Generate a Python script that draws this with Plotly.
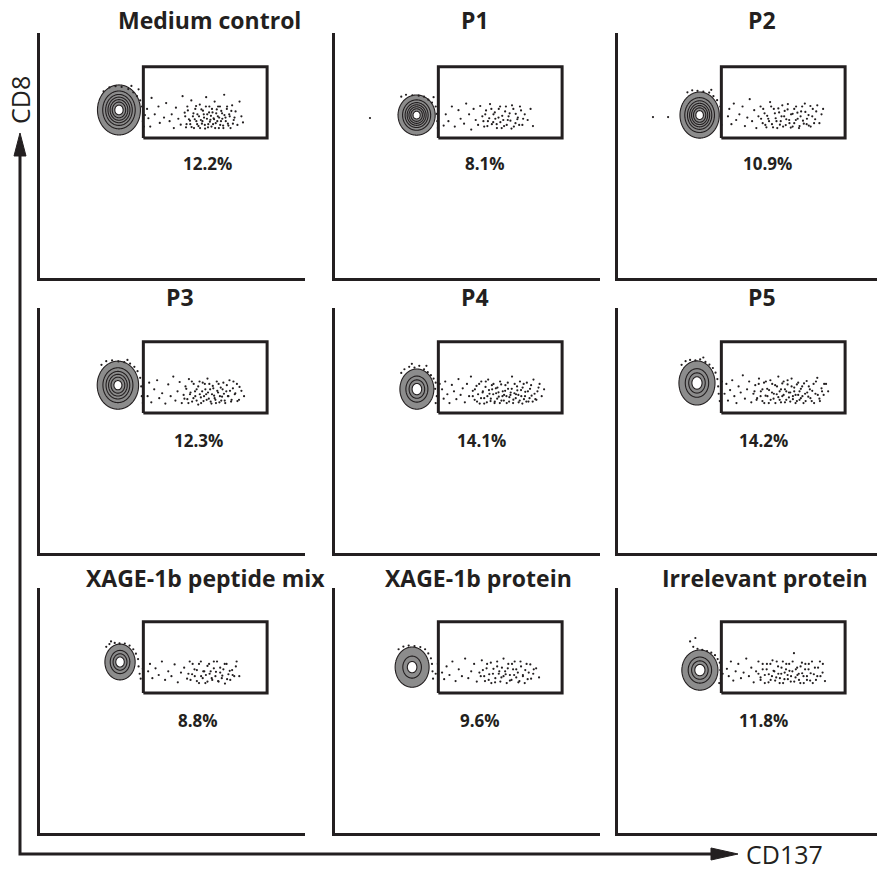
import numpy as np
import plotly.graph_objects as go

# ---------------------------------------------------------------- data
PANEL_TITLES = ["Medium control", "P1", "P2",
                "P3", "P4", "P5",
                "XAGE-1b peptide mix", "XAGE-1b protein", "Irrelevant protein"]
GATED_PCT = [12.2, 8.1, 10.9, 12.3, 14.1, 14.2, 8.8, 9.6, 11.8]

# CD137-negative population (channel units 0-1000): centre and outer extent
BLOB_CX = [298, 308, 308, 294, 309, 298, 302, 291, 309]
BLOB_CY = [686, 665, 665, 685, 669, 694, 698, 677, 665]
BLOB_RX = [81, 70, 74, 78, 64, 68, 57, 64, 68]
BLOB_RY = [102, 82, 94, 98, 82, 90, 73, 82, 82]
BLOB_RINGS = [7, 7, 7, 6, 4, 4, 4, 3, 4]

# CD137+ gate: x0, x1, y0, y1
GATE = [390, 857, 571, 862]

# individual events (CD137, CD8) shown as dots
EV_MEDIUM = [(240,762),(262,778),(285,783),(308,780),(333,771),(352,758),(366,742),(378,725),(385,700),(388,640),
    (392,618),(372,770),(345,784),(396,665),
    (404,690),(409,652),(416,618),(421,735),(433,668),(447,700),(452,633),(468,655),(476,714),(489,640),(497,668),
    (505,612),(513,695),(522,650),(531,626),(538,742),(546,675),(551,615),(556,700),(562,648),(567,628),(571,725),
    (577,660),(581,612),(586,690),(590,640),(594,668),(598,620),(603,708),(607,645),(611,630),(615,683),(619,655),
    (623,610),(627,738),(631,668),(635,628),(639,700),(643,646),(647,618),(651,676),(655,652),(659,720),(663,632),
    (667,688),(671,660),(675,612),(679,700),(683,640),(687,672),(691,622),(695,748),(700,655),(705,690),(709,630),
    (714,668),(719,612),(725,705),(731,645),(738,680),(745,625),(753,720),(760,660),(766,635),
    (548,660),(553,628),(558,684),(566,642),(572,616),(579,672),(584,648),(589,702),(593,628),(600,660),(604,612),
    (609,688),(613,640),(618,668),(622,625),(626,700),(630,650),(634,615),(638,676),(641,638),(645,662),(649,690),
    (653,628),(657,648),(661,612),(665,672),(669,640),(672,700),(676,655),(680,625),(684,682),(688,650),(692,612),
    (696,665),(701,640),(706,700),(711,622),(716,660),(722,682),(728,630),(734,655)]
EV_P1 = [(132,653),(250,740),(268,748),(292,746),(316,744),(336,740),(352,728),(366,716),(380,700),(384,670),
    (386,640),(388,612),(372,738),
    (410,622),(418,668),(428,640),(441,700),(452,618),(466,685),(474,650),(487,630),(495,712),(506,668),(514,606),
    (523,690),(531,645),(540,625),(548,702),(556,660),(563,618),(570,684),(577,640),(585,710),(592,628),(598,668),
    (605,650),(611,612),(618,690),(624,636),(631,662),(638,620),(645,700),(652,645),(659,672),(666,610),(673,690),
    (681,632),(690,655),(698,700),(707,625),(716,668),(727,645),(738,690),(747,620),
    (560,640),(567,668),(575,620),(582,652),(590,690),(597,636),(603,676),(610,628),(617,655),(623,700),(629,612),
    (635,645),(642,680),(648,625),(655,660),(662,642),(668,705),(675,618),(682,670),(688,648),(695,625),(702,684),
    (710,650)]
EV_P2 = [(132,657),(189,657),(262,758),(280,766),(300,764),(322,761),(344,757),(360,742),(374,726),(386,700),
    (388,660),(390,625),(352,768),
    (415,660),(420,690),(428,628),(437,712),(446,645),(458,668),(470,700),(479,620),(488,655),(497,730),(506,640),
    (514,685),(522,612),(530,660),(538,700),(546,632),(553,672),(560,615),(567,650),(574,718),(581,628),(588,690),
    (595,652),(601,612),(608,676),(614,640),(620,705),(627,660),(633,624),(640,688),(646,645),(652,614),(659,670),
    (665,632),(672,700),(678,650),(685,620),(691,680),(698,642),(705,712),(712,628),(719,665),(727,618),(735,690),
    (744,648),(752,705),(760,632),(768,668),(774,690),
    (540,650),(548,690),(556,625),(563,662),(570,640),(578,700),(585,615),(592,672),(598,640),(605,692),(611,626),
    (617,660),(623,618),(629,682),(635,648),(641,710),(647,632),(653,668),(659,618),(665,690),(671,645),(677,675),
    (683,612),(689,660),(695,700),(701,630),(707,678),(713,650),(720,622),(726,702),(733,660),(740,632),(748,680)]
EV_P3 = [(232,768),(250,783),(272,786),(296,782),(318,779),(340,773),(356,760),(368,742),(378,715),(382,680),
    (384,640),(388,612),(330,788),
    (406,640),(412,695),(420,615),(431,668),(442,705),(450,632),(461,652),(473,610),(484,688),(493,640),(503,720),
    (511,622),(519,660),(527,698),(535,612),(542,645),(549,680),(556,628),(562,710),(568,655),(574,618),(580,690),
    (586,640),(591,668),(597,606),(602,700),(607,635),(612,660),(617,620),(622,690),(627,648),(632,712),(637,630),
    (642,668),(647,610),(652,682),(657,642),(662,625),(667,700),(672,655),(677,615),(682,675),(687,638),(692,695),
    (697,622),(703,660),(709,640),(715,705),(721,618),(728,672),(735,648),(743,690),(751,625),(760,662),(770,640),
    (545,630),(552,670),(560,612),(566,648),(573,700),(579,632),(585,660),(591,622),(597,680),(603,648),(608,612),
    (614,695),(619,640),(624,668),(629,625),(634,655),(639,690),(644,618),(649,648),(654,672),(659,632),(664,612),
    (669,662),(674,690),(679,640),(684,622),(689,668),(694,650),(699,612),(705,685),(711,640),(717,662),(723,625),
    (730,700),(737,652),(745,620),(753,678)]
EV_P4 = [(250,735),(262,750),(280,760),(300,757),(318,764),(336,750),(350,738),(362,726),(372,712),(380,695),
    (378,670),(384,640),(380,612),(395,690),(290,772),(345,764),
    (404,668),(410,630),(416,700),(424,648),(432,612),(441,686),(449,660),(458,628),(466,710),(474,645),(482,672),
    (490,615),(498,690),(506,640),(513,720),(520,662),(527,625),(534,682),(540,648),(546,610),(552,700),(558,660),
    (563,632),(568,678),(573,615),(578,708),(583,650),(588,630),(593,668),(598,690),(603,618),(608,652),(613,675),
    (618,638),(623,700),(628,622),(633,660),(638,645),(643,685),(648,612),(653,670),(658,636),(663,655),(668,720),
    (673,626),(678,690),(683,648),(688,664),(693,615),(698,700),(703,640),(708,675),(713,628),(718,658),(724,695),
    (730,618),(736,670),(742,642),(749,708),(756,628),(764,660),(772,690),(780,640),(789,668),
    (520,640),(528,668),(536,618),(544,690),(551,632),(557,655),(563,610),(569,700),(575,640),(581,665),(587,620),
    (592,685),(597,648),(602,612),(607,672),(612,630),(617,656),(622,612),(627,688),(632,640),(637,622),(642,662),
    (647,640),(652,695),(657,618),(662,645),(667,670),(672,612),(677,652),(682,632),(687,680),(692,645),(697,622),
    (702,665),(707,610),(712,690),(717,640),(722,618),(728,660),(734,632),(740,685),(746,618),(753,650),(760,625),
    (768,675)]
EV_P5 = [(240,768),(255,783),(272,788),(292,786),(310,790),(330,780),(345,769),(358,755),(368,736),(375,710),
    (378,680),(380,650),(384,620),(392,700),(322,798),
    (402,650),(409,690),(415,622),(423,665),(431,705),(439,640),(447,612),(455,680),(463,655),(471,725),(479,630),
    (487,668),(495,700),(503,615),(511,650),(518,685),(525,632),(532,712),(539,660),(545,620),(551,695),(557,642),
    (563,670),(569,612),(575,705),(581,655),(587,630),(593,685),(599,648),(605,720),(610,625),(615,668),(620,640),
    (625,700),(630,615),(635,660),(640,688),(645,635),(650,655),(655,712),(660,628),(665,675),(670,645),(675,620),
    (680,695),(685,660),(690,632),(695,680),(700,612),(706,650),(712,702),(718,638),(724,668),(731,620),(738,690),
    (745,650),(752,715),(760,630),(768,672),(776,645),(785,690),(793,660),
    (515,660),(523,625),(531,690),(538,640),(545,668),(552,612),(558,700),(564,640),(570,665),(576,625),(582,690),
    (588,650),(594,612),(600,680),(605,636),(610,660),(615,615),(620,692),(625,645),(630,668),(635,625),(640,705),
    (645,655),(650,618),(655,680),(660,640),(665,660),(670,612),(675,688),(680,645),(685,625),(690,670),(696,640),
    (702,692),(708,620),(714,655),(720,680),(726,632),(733,662),(740,612),(747,700),(754,645),(762,620),(770,660),
    (778,690)]
EV_P6 = [(250,760),(262,771),(282,776),(300,774),(320,773),(338,765),(352,750),(362,732),(370,710),(372,680),
    (376,650),(380,630),(388,670),(268,782),
    (408,660),(415,690),(424,632),(436,672),(448,645),(460,700),(472,625),(484,660),(496,640),(508,688),(520,615),
    (532,655),(544,675),(555,630),(565,700),(574,648),(583,668),(592,620),(600,690),(608,640),(616,660),(624,612),
    (632,682),(640,650),(648,632),(656,700),(664,658),(672,620),(680,675),(688,642),(697,690),(706,628),(716,662),
    (727,645),(739,680),(752,640),
    (560,650),(568,625),(576,690),(584,640),(592,665),(600,612),(607,700),(614,632),(620,660),(626,645),(632,618),
    (638,690),(644,660),(650,625),(656,672),(662,640),(668,700),(674,618),(680,655),(686,632),(692,668),(698,610),
    (704,690),(711,648),(718,625),(725,665),(733,640),(742,700)]
EV_P7 = [(240,750),(258,761),(278,765),(300,763),(322,759),(340,750),(352,733),(362,713),(366,690),(368,660),
    (370,630),(380,650),(388,690),
    (404,655),(412,628),(421,680),(432,645),(443,700),(455,620),(467,668),(479,640),(491,712),(503,632),(514,660),
    (525,690),(535,618),(545,655),(554,705),(563,640),(572,672),(580,625),(588,695),(596,650),(604,615),(612,680),
    (620,660),(628,635),(636,712),(644,648),(652,672),(660,622),(668,690),(676,645),(684,668),(692,615),(700,700),
    (709,640),(718,665),(727,628),(737,688),(748,650),(759,672),(770,635),
    (550,640),(558,665),(566,620),(574,690),(582,648),(590,612),(598,670),(605,632),(612,700),(618,650),(624,618),
    (630,675),(636,640),(642,660),(648,612),(654,690),(660,645),(666,625),(672,668),(678,700),(684,635),(690,655),
    (696,620),(702,680),(709,645),(716,612),(723,690),(731,655),(740,630),(750,668)]
EV_P8 = [(272,782),(284,760),(300,752),(318,748),(336,742),(352,736),(366,726),(376,710),(384,695),(386,665),
    (388,630),(382,612),(395,650),(292,796),
    (411,670),(418,640),(426,700),(435,622),(444,660),(454,690),(464,632),(474,655),(484,712),(494,640),(503,675),
    (512,615),(521,660),(530,700),(538,635),(546,668),(554,612),(562,690),(569,648),(576,625),(583,705),(590,660),
    (597,635),(604,680),(610,612),(616,650),(622,700),(628,628),(634,668),(640,645),(646,690),(652,618),(658,660),
    (664,734),(670,635),(676,675),(682,650),(688,612),(694,695),(700,640),(706,668),(713,625),(720,690),(727,652),
    (735,612),(743,675),(752,640),(762,700),(772,655),(781,620),
    (530,650),(538,625),(546,690),(554,645),(561,668),(568,615),(575,690),(581,640),(587,662),(593,622),(599,700),
    (605,650),(611,632),(617,675),(623,612),(629,655),(635,690),(641,628),(647,662),(653,640),(659,700),(665,618),
    (671,668),(677,645),(683,625),(689,680),(695,652),(701,612),(707,690),(713,640),(719,668),(725,622),(732,700),
    (739,648),(747,625),(755,675),(764,640),(773,690)]
EVENTS = [EV_MEDIUM, EV_P1, EV_P2, EV_P3, EV_P4, EV_P5, EV_P6, EV_P7, EV_P8]

# ---------------------------------------------------------------- layout geometry (pixels)
W, H = 877, 873
COL_X0 = [40, 335, 618]
COL_X1 = [305, 600, 877]
ROW_TOP = [33, 308, 588]
ROW_BOT = [278, 553, 833]
PX_PER_UNIT_X = 265 / 1000.0
TITLE_X = [209, 475, 762, 180, 475, 762, 205, 478, 765]
TITLE_Y = [20, 297, 578]
PCT_X = [207, 485, 767, 198, 481, 763, 198, 480, 763]
PCT_Y = [163, 440, 720]

INK = "#231f20"
GRAY = "#8c8c8c"
FONT = "Open Sans"


def px(x):
    return x / W


def py(y):
    return 1 - y / H


fig = go.Figure()
annotations = []

for i in range(9):
    r, c = divmod(i, 3)
    sfx = "" if i == 0 else str(i + 1)
    xref, yref = "x" + sfx, "y" + sfx
    xmax = (COL_X1[c] - COL_X0[c]) / PX_PER_UNIT_X

    common = dict(showgrid=False, zeroline=False, showticklabels=False, ticks="",
                  showline=True, linecolor=INK, linewidth=3, fixedrange=True)
    fig.layout["xaxis" + sfx] = dict(domain=[px(COL_X0[c]), px(COL_X1[c])], range=[0, xmax],
                                     anchor=yref, **common)
    fig.layout["yaxis" + sfx] = dict(domain=[py(ROW_BOT[r]), py(ROW_TOP[r])], range=[0, 1000],
                                     anchor=xref, **common)

    # density contour of the CD137-negative population
    n = BLOB_RINGS[i]
    sx, sy = BLOB_RX[i] / 2.37, BLOB_RY[i] / 2.37
    gx = np.linspace(BLOB_CX[i] - 3.2 * sx, BLOB_CX[i] + 3.2 * sx, 120)
    gy = np.linspace(BLOB_CY[i] - 3.2 * sy, BLOB_CY[i] + 3.2 * sy, 120)
    X, Y = np.meshgrid(gx, gy)
    Z = np.exp(-0.5 * (((X - BLOB_CX[i]) / sx) ** 2 + ((Y - BLOB_CY[i]) / sy) ** 2))
    top = 0.9 if n >= 6 else 0.8
    size = (top - 0.06) / (n - 1)
    e = 0.5 / n
    cscale = [[0, "rgba(255,255,255,0)"], [e, "rgba(255,255,255,0)"], [e + 1e-4, GRAY],
              [1 - e, GRAY], [1 - e + 1e-4, "white"], [1, "white"]]
    fig.add_trace(go.Contour(x=gx, y=gy, z=Z, xaxis=xref, yaxis=yref, showscale=False,
                             colorscale=cscale, hoverinfo="skip",
                             contours=dict(start=0.06, end=top + 1e-6, size=size, coloring="fill"),
                             line=dict(color=INK, width=1.1)))

    # events
    ev = EVENTS[i]
    fig.add_trace(go.Scatter(x=[p[0] for p in ev], y=[p[1] for p in ev], mode="markers",
                             xaxis=xref, yaxis=yref, hoverinfo="skip",
                             marker=dict(size=2.2, color=INK, line=dict(width=0))))

    # CD137+ gate
    gx0, gx1, gy0, gy1 = GATE
    fig.add_trace(go.Scatter(x=[gx0, gx1, gx1, gx0, gx0], y=[gy0, gy0, gy1, gy1, gy0],
                             mode="lines", xaxis=xref, yaxis=yref, hoverinfo="skip",
                             line=dict(color=INK, width=3)))

    annotations.append(dict(text="<b>%s</b>" % PANEL_TITLES[i], xref="paper", yref="paper",
                            x=px(TITLE_X[i]), y=py(TITLE_Y[r]), showarrow=False,
                            xanchor="center", yanchor="middle",
                            font=dict(family=FONT, size=23, color=INK)))
    annotations.append(dict(text="<b>%.1f%%</b>" % GATED_PCT[i], xref="paper", yref="paper",
                            x=px(PCT_X[i]), y=py(PCT_Y[r]), showarrow=False,
                            xanchor="center", yanchor="middle",
                            font=dict(family=FONT, size=17, color=INK)))

# outer CD8 / CD137 axis arrows
shapes = [
    dict(type="path", xref="paper", yref="paper",
         path="M %f %f L %f %f L %f %f" % (px(20), py(150), px(20), py(854), px(715), py(854)),
         line=dict(color=INK, width=3)),
    dict(type="path", xref="paper", yref="paper",
         path="M %f %f L %f %f L %f %f Z" % (px(20), py(133), px(14), py(156), px(26), py(156)),
         line=dict(color=INK, width=1), fillcolor=INK),
    dict(type="path", xref="paper", yref="paper",
         path="M %f %f L %f %f L %f %f Z" % (px(738), py(854), px(711), py(848), px(711), py(860)),
         line=dict(color=INK, width=1), fillcolor=INK),
]
annotations.append(dict(text="CD8", xref="paper", yref="paper", x=px(20), y=py(100),
                        showarrow=False, textangle=-90, xanchor="center", yanchor="middle",
                        font=dict(family=FONT, size=25, color=INK)))
annotations.append(dict(text="CD137", xref="paper", yref="paper", x=px(744), y=py(854),
                        showarrow=False, xanchor="left", yanchor="middle",
                        font=dict(family=FONT, size=25, color=INK)))

fig.update_layout(width=W, height=H, margin=dict(l=0, r=0, t=0, b=0),
                  paper_bgcolor="white", plot_bgcolor="white", showlegend=False,
                  shapes=shapes, annotations=annotations)

fig.write_html("out.html")
